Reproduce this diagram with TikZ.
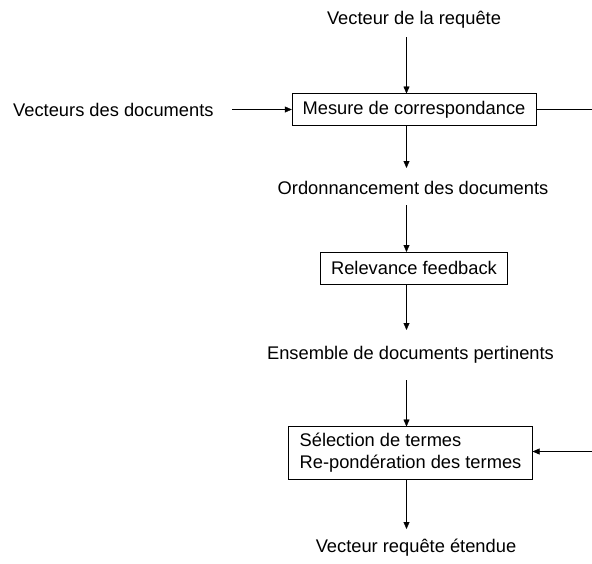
\documentclass[tikz,border=0pt]{standalone}
\usepackage{fontspec}
\setmainfont{Liberation Sans}
\usepackage{tikz}
\usetikzlibrary{positioning,arrows.meta}

\tikzset{
  boite/.style={draw,rectangle,inner sep=0pt,font=\fontsize{18.3}{22}\selectfont},
  texte/.style={font=\fontsize{18.3}{22}\selectfont},
  fleche/.style={-{Triangle[length=7pt,width=6pt]}}
}

\begin{document}
\begin{tikzpicture}[x=1pt,y=-1pt]
    \useasboundingbox (0,0) rectangle (592,563);
    % entrees
    \node[texte] (req) at (414,20) {Vecteur de la requête};
    \node[texte,anchor=west,inner sep=0pt] (docs) at (13,110) {Vecteurs des documents};
    \node[boite,minimum width=244pt,minimum height=32pt] (mesure) at (414,109.5) {Mesure de correspondance};
    \node[texte] (ordre) at (413,188) {Ordonnancement des documents};
    \node[boite,minimum width=187pt,minimum height=32pt] (rf) at (414,268) {Relevance feedback};
    \node[texte] (ens) at (410.5,355) {Ensemble de documents pertinents};
    \node[boite,minimum width=243pt,minimum height=53pt,align=left,inner xsep=11pt] (sel) at (410.5,453) {Sélection de termes\\Re-pondération des termes};
    \node[texte] (fin) at (416,548) {Vecteur requête étendue};

    % points d'attache
    \coordinate (a1) at (406.5,37);
    \coordinate (a2) at (406.5,93.5);
    \coordinate (b1) at (406.5,125.5);
    \coordinate (b2) at (406.5,168);
    \coordinate (c1) at (406.5,205);
    \coordinate (c2) at (406.5,252);
    \coordinate (d0) at (406.5,284);
    \coordinate (d1) at (406.5,330);
    \coordinate (e1) at (406.5,380);
    \coordinate (e2) at (406.5,426.5);
    \coordinate (f1) at (406.5,479.5);
    \coordinate (f2) at (406.5,529);
    \coordinate (gauche) at (232,109.5);
    \coordinate (sortie) at (592,109.5);
    \coordinate (retour) at (592,451.5);

    \draw[fleche] (a1) -- (a2);
    \draw[fleche] (gauche) -- (mesure.west |- gauche);
    \draw (mesure.east |- sortie) -- (sortie);
    \draw[fleche] (b1) -- (b2);
    \draw[fleche] (c1) -- (c2);
    \draw[fleche] (d0) -- (d1);
    \draw[fleche] (e1) -- (e2);
    \draw[fleche] (retour) -- (sel.east |- retour);
    \draw[fleche] (f1) -- (f2);
\end{tikzpicture}
\end{document}
